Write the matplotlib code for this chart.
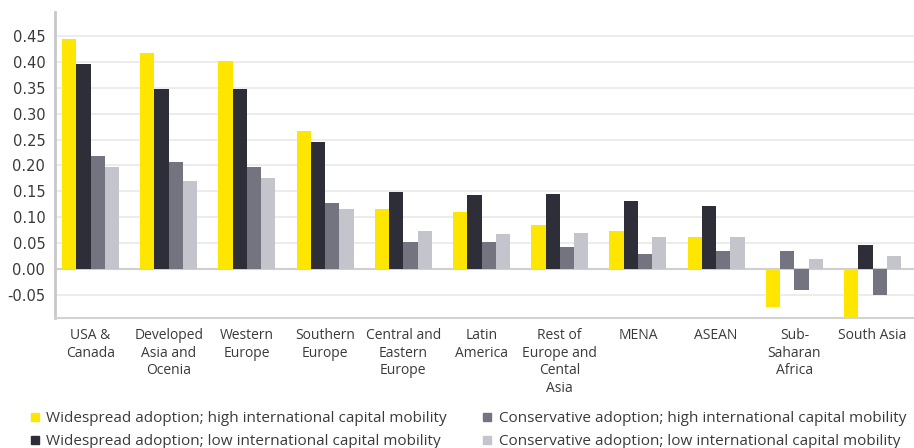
import matplotlib.pyplot as plt
from matplotlib.lines import Line2D
import numpy as np

regions = ['USA &\nCanada', 'Developed\nAsia and\nOcenia', 'Western\nEurope', 'Southern\nEurope',
           'Central and\nEastern\nEurope', 'Latin\nAmerica', 'Rest of\nEurope and\nCental\nAsia',
           'MENA', 'ASEAN', 'Sub-\nSaharan\nAfrica', 'South Asia']

wide_high = [0.444, 0.417, 0.402, 0.266, 0.116, 0.110, 0.085, 0.073, 0.062, -0.073, -0.094]
wide_low = [0.396, 0.347, 0.347, 0.245, 0.149, 0.143, 0.145, 0.131, 0.122, 0.035, 0.046]
cons_high = [0.218, 0.207, 0.197, 0.127, 0.052, 0.052, 0.042, 0.029, 0.035, -0.041, -0.051]
cons_low = [0.197, 0.170, 0.176, 0.116, 0.073, 0.068, 0.069, 0.062, 0.062, 0.019, 0.025]

labels = ['Widespread adoption; high international capital mobility',
          'Widespread adoption; low international capital mobility',
          'Conservative adoption; high international capital mobility',
          'Conservative adoption; low international capital mobility']
colors = ['#FFE600', '#2E2E38', '#747480', '#C4C4CD']

text_color = '#3a3a3a'
label_font = 'Open Sans'

fig = plt.figure(figsize=(9.14, 4.48), dpi=100)
ax = fig.add_axes([0.0602, 0.29, 0.9398, 0.683])

x = np.arange(len(regions))
w = 0.182
series = [wide_high, wide_low, cons_high, cons_low]
for i, (vals, c) in enumerate(zip(series, colors)):
    bar_colors = [c] * len(vals)
    if i == 1:
        # Sub-Saharan Africa is drawn in the mid grey in the source
        bar_colors[9] = colors[2]
    ax.bar(x + (i - 1.5) * w, vals, width=w, color=bar_colors, zorder=3)

ax.set_xlim(-0.454, 10.53)
ax.set_ylim(-0.0946, 0.496)
ax.set_yticks(np.arange(-0.05, 0.451, 0.05))
ax.set_yticklabels([f'{v:.2f}' for v in np.arange(-0.05, 0.451, 0.05)])
ax.grid(axis='y', color='#ececec', linewidth=1.4, zorder=0)
ax.axhline(0, color='#cfcfcf', linewidth=1.5, zorder=2)

ax.set_xticks(x)
ax.set_xticklabels(regions, fontsize=10, family=label_font, color=text_color, linespacing=1.25)
ax.tick_params(axis='x', length=0, pad=7)
ax.tick_params(axis='y', length=0, pad=7, labelsize=10.5, labelcolor=text_color)

for s in ['top', 'right']:
    ax.spines[s].set_visible(False)
ax.spines['left'].set_color('#c8c8c8')
ax.spines['left'].set_linewidth(2)
ax.spines['bottom'].set_color('#d2d2d2')
ax.spines['bottom'].set_linewidth(1.5)

handles = [Line2D([], [], marker='s', linestyle='none', markersize=5.5, color=c) for c in colors]
fig.legend(handles, labels, ncol=2, loc='upper left', bbox_to_anchor=(0.034, 0.082),
           frameon=False, handlelength=0.5, handletextpad=0.5, columnspacing=2.4,
           labelspacing=0.5, borderaxespad=0, borderpad=0,
           prop={'family': label_font, 'size': 11}, labelcolor=text_color)

fig.savefig('out.png', dpi=100)
